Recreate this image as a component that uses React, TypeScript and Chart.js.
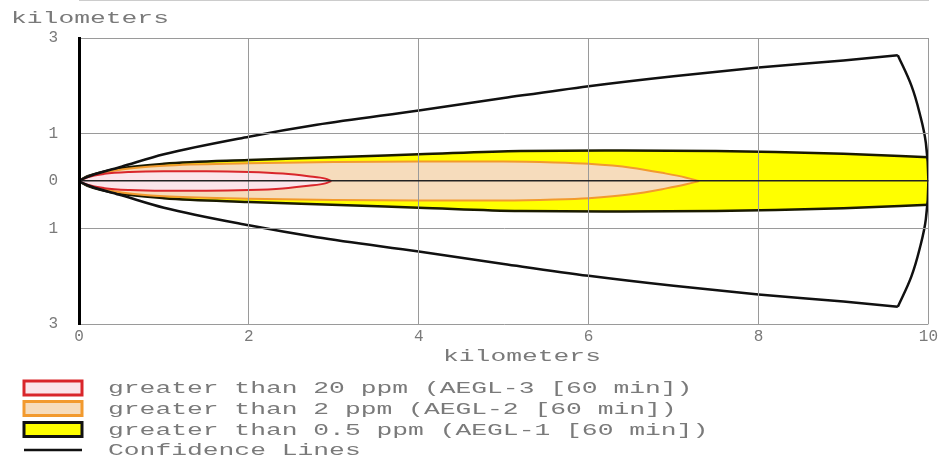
import React, { useEffect, useRef } from "react";
import { Chart, registerables } from "chart.js";

Chart.register(...registerables);

// ---- axis ticks & titles ----
const xTicks = [0, 2, 4, 6, 8, 10];
const yTicks = [-3, -1, 0, 1, 3];
const xTitle = "kilometers";
const yTitle = "kilometers";

// ---- threat zones (x in km downwind, half-width in km crosswind) ----
const aegl3X = [0, 0.1, 0.3, 0.6, 1.0, 1.5, 2.0, 2.4, 2.7, 2.9, 2.97];
const aegl3W = [0, 0.08, 0.15, 0.19, 0.205, 0.205, 0.19, 0.155, 0.1, 0.05, 0];

const aegl2X = [0, 0.1, 0.5, 1.0, 2.0, 3.0, 4.0, 5.0, 5.6, 6.0, 6.5, 6.9, 7.15, 7.3];
const aegl2W = [0, 0.09, 0.24, 0.32, 0.37, 0.4, 0.41, 0.41, 0.39, 0.36, 0.28, 0.16, 0.07, 0];

const aegl1X = [0, 0.1, 0.5, 1.0, 2.0, 2.8, 4.0, 5.2, 6.4, 7.5, 8.2, 9.0, 10];
const aegl1W = [0, 0.1, 0.27, 0.36, 0.44, 0.49, 0.56, 0.63, 0.64, 0.63, 0.61, 0.57, 0.5];

// ---- confidence lines ----
const confX = [0, 0.05, 0.15, 0.5, 1.0, 2.0, 2.8, 4.0, 5.0, 6.0, 7.0, 8.0, 9.0, 9.64];
const confW = [0, 0.05, 0.12, 0.3, 0.56, 0.93, 1.18, 1.48, 1.74, 1.99, 2.2, 2.38, 2.53, 2.64];
const arcX = [9.64, 9.8, 9.9, 9.97, 10, 9.97, 9.9, 9.8, 9.64];
const arcY = [2.64, 2.0, 1.4, 0.8, 0, -0.8, -1.4, -2.0, -2.64];

// ---- legend ----
const legendLabels = [
  "greater than 20 ppm (AEGL-3 [60 min])",
  "greater than 2 ppm (AEGL-2 [60 min])",
  "greater than 0.5 ppm (AEGL-1 [60 min])",
  "Confidence Lines",
];

const RED = "#d9262b";
const RED_FILL = "#fbe5ea";
const ORANGE = "#f29a2e";
const ORANGE_FILL = "#f6dcbc";
const YELLOW_EDGE = "#1a1a00";
const YELLOW_FILL = "#ffff00";
const BLACK = "#111111";
const GRID = "#9a9a9a";
const TEXT = "#7a7a7a";
const FONT = '"Liberation Mono", "DejaVu Sans Mono", monospace';
const STRETCH = 1.645;

function pts(xs: number[], ys: number[], sign = 1) {
  return xs.map((x, i) => ({ x, y: sign * ys[i] }));
}

function drawStretched(ctx: CanvasRenderingContext2D, text: string, x: number, y: number) {
  ctx.save();
  ctx.translate(x, y);
  ctx.scale(STRETCH, 1);
  ctx.fillText(text, 0, 0);
  ctx.restore();
}

const framePlugin = {
  id: "alohaFrame",
  afterDatasetsDraw(chart: any) {
    const ctx: CanvasRenderingContext2D = chart.ctx;
    const a = chart.chartArea;
    ctx.save();
    ctx.strokeStyle = GRID;
    ctx.lineWidth = 1;
    ctx.beginPath();
    ctx.moveTo(a.left, Math.round(a.top) + 0.5);
    ctx.lineTo(a.right, Math.round(a.top) + 0.5);
    ctx.stroke();
    ctx.restore();
  },
};

const textPlugin = {
  id: "alohaText",
  afterDraw(chart: any) {
    const ctx: CanvasRenderingContext2D = chart.ctx;
    const area = chart.chartArea;
    ctx.save();
    ctx.font = `16px ${FONT}`;
    ctx.fillStyle = TEXT;
    ctx.textBaseline = "alphabetic";
    ctx.textAlign = "left";
    // axis titles
    drawStretched(ctx, yTitle, 11, 23);
    drawStretched(ctx, xTitle, area.left + 364, area.bottom + 37);

    // legend
    const boxL = 24;
    const boxW = 58;
    const boxH = 14;
    const rows = [388, 408.5, 429.5, 450];
    const styles = [
      { fill: RED_FILL, stroke: RED },
      { fill: ORANGE_FILL, stroke: ORANGE },
      { fill: YELLOW_FILL, stroke: BLACK },
    ];
    legendLabels.forEach((label, i) => {
      const cy = rows[i];
      if (i < 3) {
        ctx.fillStyle = styles[i].fill;
        ctx.fillRect(boxL, cy - boxH / 2, boxW, boxH);
        ctx.strokeStyle = styles[i].stroke;
        ctx.lineWidth = 3;
        ctx.strokeRect(boxL, cy - boxH / 2, boxW, boxH);
      } else {
        ctx.strokeStyle = BLACK;
        ctx.lineWidth = 2.5;
        ctx.beginPath();
        ctx.moveTo(boxL, cy);
        ctx.lineTo(boxL + boxW, cy);
        ctx.stroke();
      }
      ctx.fillStyle = TEXT;
      drawStretched(ctx, label, 108, cy + 5);
    });
    ctx.restore();
  },
};

export default function App() {
  const canvasRef = useRef<HTMLCanvasElement | null>(null);

  useEffect(() => {
    if (!canvasRef.current) return;
    const base = {
      showLine: true,
      pointRadius: 0,
      pointHoverRadius: 0,
      cubicInterpolationMode: "monotone",
    };
    const zone = (label: string, xs: number[], ws: number[], edge: string, fillColor: string, width: number, order: number) => [
      {
        ...base,
        label: label,
        data: pts(xs, ws, 1),
        borderColor: edge,
        backgroundColor: fillColor,
        borderWidth: width,
        fill: false,
        order,
      },
      {
        ...base,
        label: label + " (lower)",
        data: pts(xs, ws, -1),
        borderColor: edge,
        backgroundColor: fillColor,
        borderWidth: width,
        fill: "-1",
        order,
      },
    ];
    const chart = new Chart(canvasRef.current, {
      type: "scatter",
      data: {
        datasets: [
          {
            ...base,
            label: "Confidence upper",
            data: pts(confX, confW, 1),
            borderColor: BLACK,
            borderWidth: 2.5,
            fill: false,
            order: 0,
          },
          {
            ...base,
            label: "Confidence lower",
            data: pts(confX, confW, -1),
            borderColor: BLACK,
            borderWidth: 2.5,
            fill: false,
            order: 0,
          },
          {
            showLine: true,
            pointRadius: 0,
            pointHoverRadius: 0,
            label: "Confidence arc",
            data: pts(arcX, arcY, 1),
            borderColor: BLACK,
            borderWidth: 2.5,
            tension: 0.4,
            fill: false,
            order: 0,
          },
          ...zone(legendLabels[0], aegl3X, aegl3W, RED, RED_FILL, 2, 1),
          ...zone(legendLabels[1], aegl2X, aegl2W, ORANGE, ORANGE_FILL, 2, 2),
          ...zone(legendLabels[2], aegl1X, aegl1W, YELLOW_EDGE, YELLOW_FILL, 2.5, 3),
        ],
      },
      options: {
        animation: false,
        responsive: true,
        maintainAspectRatio: false,
        devicePixelRatio: 1,
        events: [],
        layout: { padding: { top: 38, right: 12, left: 0, bottom: 0 } },
        plugins: {
          legend: { display: false },
          tooltip: { enabled: false },
          title: { display: false },
        },
        scales: {
          x: {
            type: "linear",
            min: 0,
            max: 10,
            afterBuildTicks: (scale: any) => {
              scale.ticks = xTicks.map((v) => ({ value: v }));
            },
            afterFit: (scale: any) => {
              scale.height = 135;
            },
            grid: { color: GRID, lineWidth: 1, drawTicks: false, z: 1 },
            border: { color: GRID, width: 1 },
            ticks: {
              color: TEXT,
              font: { family: FONT, size: 16 },
              padding: 3,
              maxRotation: 0,
              autoSkip: false,
              callback: (v: any) => String(v),
            },
          },
          y: {
            type: "linear",
            min: -3,
            max: 3,
            afterBuildTicks: (scale: any) => {
              scale.ticks = yTicks.map((v) => ({ value: v }));
            },
            afterFit: (scale: any) => {
              scale.width = 79;
            },
            grid: {
              color: (c: any) => (c.tick && c.tick.value === 0 ? "#222222" : GRID),
              lineWidth: (c: any) => (c.tick && c.tick.value === 0 ? 1.5 : 1),
              drawTicks: false,
              z: 1,
            },
            border: { color: "#000000", width: 3, z: 2 },
            ticks: {
              color: TEXT,
              font: { family: FONT, size: 16 },
              padding: 21,
              autoSkip: false,
              callback: (v: any) => String(Math.abs(Number(v))),
            },
          },
        },
      },
      plugins: [framePlugin, textPlugin],
    } as any);
    return () => chart.destroy();
  }, []);

  return (
    <div
      style={{
        position: "absolute",
        left: 0,
        top: 0,
        width: 941,
        height: 459,
        background: "#ffffff",
      }}
    >
      <canvas ref={canvasRef} />
    </div>
  );
}
